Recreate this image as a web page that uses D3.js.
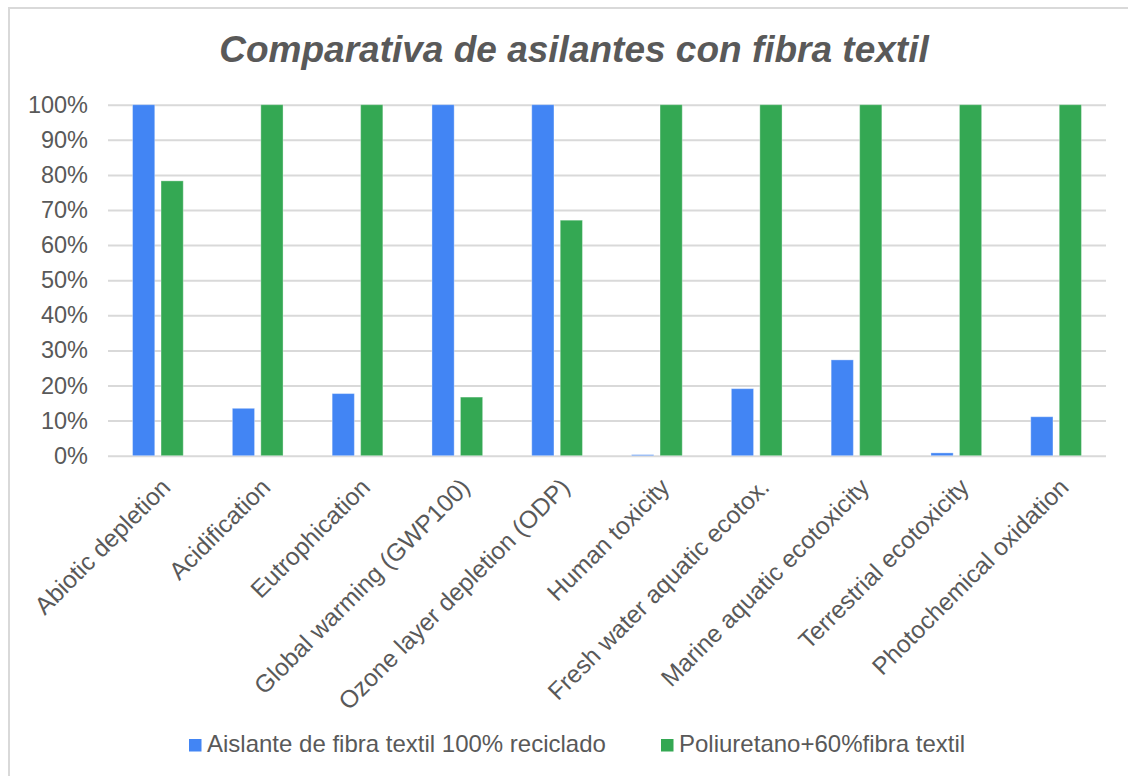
<!DOCTYPE html>
<html>
<head>
<meta charset="utf-8">
<script src="https://cdn.jsdelivr.net/npm/d3@7"></script>
<style>
  html, body { margin: 0; padding: 0; background: #fff; }
  svg { display: block; font-family: "Liberation Sans", Arial, sans-serif; }
</style>
</head>
<body>
<div id="chart"></div>
<script>
// chart data
const categories = [
  "Abiotic depletion", "Acidification", "Eutrophication", "Global warming (GWP100)",
  "Ozone layer depletion (ODP)", "Human toxicity", "Fresh water aquatic ecotox.",
  "Marine aquatic ecotoxicity", "Terrestrial ecotoxicity", "Photochemical oxidation"
];
const seriesNames = ["Aislante de fibra textil 100% reciclado", "Poliuretano+60%fibra textil"];
const aislante = [1.00, 0.135, 0.177, 1.00, 1.00, 0.003, 0.191, 0.273, 0.008, 0.111];
const poliuretano = [0.783, 1.00, 1.00, 0.167, 0.671, 1.00, 1.00, 1.00, 1.00, 1.00];
const yTicks = [0, 0.1, 0.2, 0.3, 0.4, 0.5, 0.6, 0.7, 0.8, 0.9, 1.0];
const colors = ["#4285F4", "#34A853"];

const width = 1128, height = 776;
const textColor = "#595959";
const plot = { left: 108, right: 1106, top: 104.7, bottom: 455.7 };

const svg = d3.select("#chart").append("svg")
  .attr("width", width)
  .attr("height", height);

svg.append("rect")
  .attr("width", width).attr("height", height)
  .attr("fill", "#fff");

// outer chart frame (right and bottom edges fall outside the picture)
svg.append("rect")
  .attr("x", 9).attr("y", 8)
  .attr("width", width + 20).attr("height", height + 20)
  .attr("fill", "none")
  .attr("stroke", "#d9d9d9")
  .attr("stroke-width", 2);

svg.append("text")
  .attr("x", 574).attr("y", 62)
  .attr("text-anchor", "middle")
  .attr("font-size", 37)
  .attr("font-weight", "bold")
  .attr("font-style", "italic")
  .attr("fill", textColor)
  .text("Comparativa de asilantes con fibra textil");

const x0 = d3.scaleBand()
  .domain(categories)
  .range([plot.left, plot.right]);

const groupWidth = x0.bandwidth() * 0.508;
const x1 = d3.scaleBand()
  .domain(seriesNames)
  .range([0, groupWidth])
  .paddingInner(0.22);

const y = d3.scaleLinear()
  .domain([0, 1])
  .range([plot.bottom, plot.top]);

// y axis with gridlines
const yAxis = svg.append("g")
  .attr("transform", `translate(${plot.left},0)`)
  .call(d3.axisLeft(y)
    .tickValues(yTicks)
    .tickFormat(d3.format(".0%"))
    .tickSize(-(plot.right - plot.left))
    .tickPadding(20));
yAxis.select(".domain").remove();
yAxis.selectAll(".tick line")
  .attr("stroke", "#d9d9d9")
  .attr("stroke-width", 2);
yAxis.selectAll(".tick text")
  .attr("font-size", 23.5)
  .attr("fill", textColor);

// bars
const rows = categories.map((c, i) => ({ cat: c, values: [aislante[i], poliuretano[i]] }));

const groups = svg.append("g").selectAll("g")
  .data(rows)
  .join("g")
  .attr("transform", d => `translate(${x0(d.cat) + (x0.bandwidth() - groupWidth) / 2},0)`);

groups.selectAll("rect")
  .data(d => d.values.map((v, j) => ({ name: seriesNames[j], v, j })))
  .join("rect")
  .attr("x", d => x1(d.name))
  .attr("width", x1.bandwidth())
  .attr("y", d => y(d.v))
  .attr("height", d => y(0) - y(d.v))
  .attr("fill", d => colors[d.j])
  .attr("stroke", "#fff")
  .attr("stroke-opacity", 0.35)
  .attr("stroke-width", 1);

// category labels, rotated
const xAxis = svg.append("g")
  .attr("transform", `translate(0,${plot.bottom})`)
  .call(d3.axisBottom(x0).tickSize(0).tickPadding(0));
xAxis.select(".domain").remove();
xAxis.selectAll(".tick text")
  .attr("font-size", 24.5)
  .attr("fill", textColor)
  .attr("text-anchor", "end")
  .attr("dy", "0.35em")
  .attr("y", 0)
  .attr("transform", "translate(8,27) rotate(-45)");

// legend
const legend = svg.append("g");
const legendX = [189, 661];
seriesNames.forEach((name, i) => {
  legend.append("rect")
    .attr("x", legendX[i]).attr("y", 739)
    .attr("width", 12.5).attr("height", 12.5)
    .attr("fill", colors[i]);
  legend.append("text")
    .attr("x", legendX[i] + 18).attr("y", 752)
    .attr("font-size", 24)
    .attr("fill", textColor)
    .text(name);
});
</script>
</body>
</html>
